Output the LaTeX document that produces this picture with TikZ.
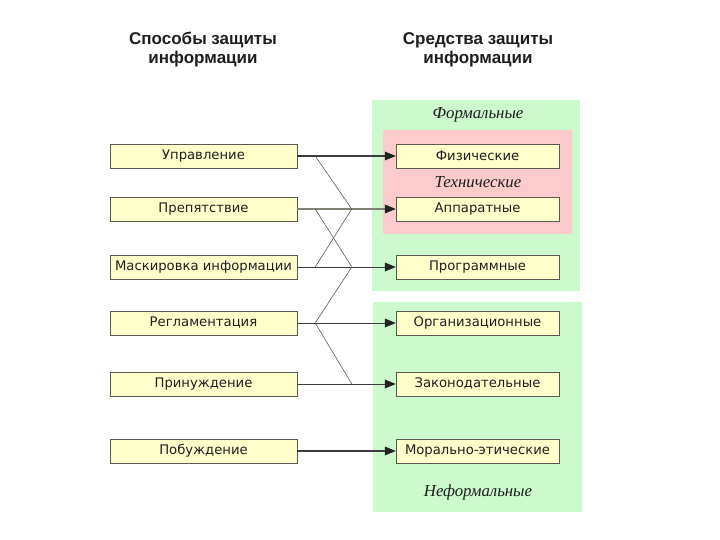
\documentclass[tikz,border=0pt]{standalone}
\usepackage{fontspec}
\newfontfamily\boxfont{DejaVu Sans}
\newfontfamily\headfont{Liberation Sans}
\newfontfamily\groupfont{Liberation Serif}
\usepackage{tikz}
\usetikzlibrary{arrows.meta}
\usetikzlibrary{positioning}
\definecolor{boxyellow}{RGB}{255,255,204}
\definecolor{boxline}{RGB}{90,90,80}
\definecolor{textgray}{RGB}{30,30,30}
\definecolor{formgreen}{RGB}{204,250,204}
\definecolor{techpink}{RGB}{252,204,204}
\definecolor{darkline}{RGB}{60,60,60}
\definecolor{paleline}{RGB}{128,128,116}
\definecolor{crossgray}{RGB}{90,90,90}
\definecolor{tipblack}{RGB}{35,35,30}

\begin{document}
\begin{tikzpicture}[x=1pt,y=-1pt,node distance=274pt,
  every node/.style={inner sep=0pt},
  meth/.style={draw=boxline,fill=boxyellow,minimum width=187pt,minimum height=24pt,
    font=\boxfont\fontsize{13.2}{15}\selectfont,text=textgray},
  mean/.style={meth,minimum width=163pt},
  head/.style={align=center,font=\headfont\bfseries\fontsize{17}{19}\selectfont,text=textgray},
  group/.style={font=\groupfont\itshape\fontsize{16.8}{18}\selectfont,text=textgray},
  link/.style={-{Triangle[length=11pt,width=9pt,line width=0pt,color=tipblack]},draw=darkline}]
\useasboundingbox (0,0) rectangle (720,540);

% backgrounds
\fill[formgreen] (372,100) rectangle (580,291);
\fill[formgreen] (373,302) rectangle (582,512);
\fill[techpink] (383,130) rectangle (572,234);

% headings
\node[head] (hmeth) at (203,50) {Способы защиты\\информации};
\node[head] (hmean) at (478,50) {Средства защиты\\информации};
\node[group] (formal) at (478,115) {Формальные};
\node[group] (tech) at (478,182) {Технические};
\node[group] (informal) at (478,492) {Неформальные};

% methods
\node[meth] (upr) at (203.5,156) {Управление};
\node[meth] (prep) at (203.5,209) {Препятствие};
\node[meth] (mask) at (203.5,267) {Маскировка информации};
\node[meth] (regl) at (203.5,323) {Регламентация};
\node[meth] (prin) at (203.5,384) {Принуждение};
\node[meth] (pob) at (203.5,451) {Побуждение};

% means
\node[mean,right of=upr] (fiz) {Физические};
\node[mean,right of=prep] (app) {Аппаратные};
\node[mean,right of=mask] (prog) {Программные};
\node[mean,right of=regl] (org) {Организационные};
\node[mean,right of=prin] (zak) {Законодательные};
\node[mean,right of=pob] (mor) {Морально-этические};

\draw[link,line width=2pt](upr)--(fiz);
\draw[link,line width=2.6pt,draw=paleline](prep)--(app);
\draw[link,line width=0.9pt](mask)--(prog);
\draw[link,line width=0.9pt](regl)--(org);
\draw[link,line width=0.9pt](prin)--(zak);
\draw[link,line width=2pt](pob)--(mor);

% branch points
\coordinate (u1) at ([xshift=18pt]upr.east);
\coordinate (p1) at ([xshift=18pt]prep.east);
\coordinate (p2) at ([xshift=-44pt]app.west);
\coordinate (m1) at ([xshift=18pt]mask.east);
\coordinate (m2) at ([xshift=-44pt]prog.west);
\coordinate (r1) at ([xshift=18pt]regl.east);
\coordinate (z2) at ([xshift=-44pt]zak.west);
\draw[crossgray,line width=0.6pt](u1)--(p2)--(m1);
\draw[crossgray,line width=0.6pt](p1)--(m2)--(r1)--(z2);
\end{tikzpicture}
\end{document}
